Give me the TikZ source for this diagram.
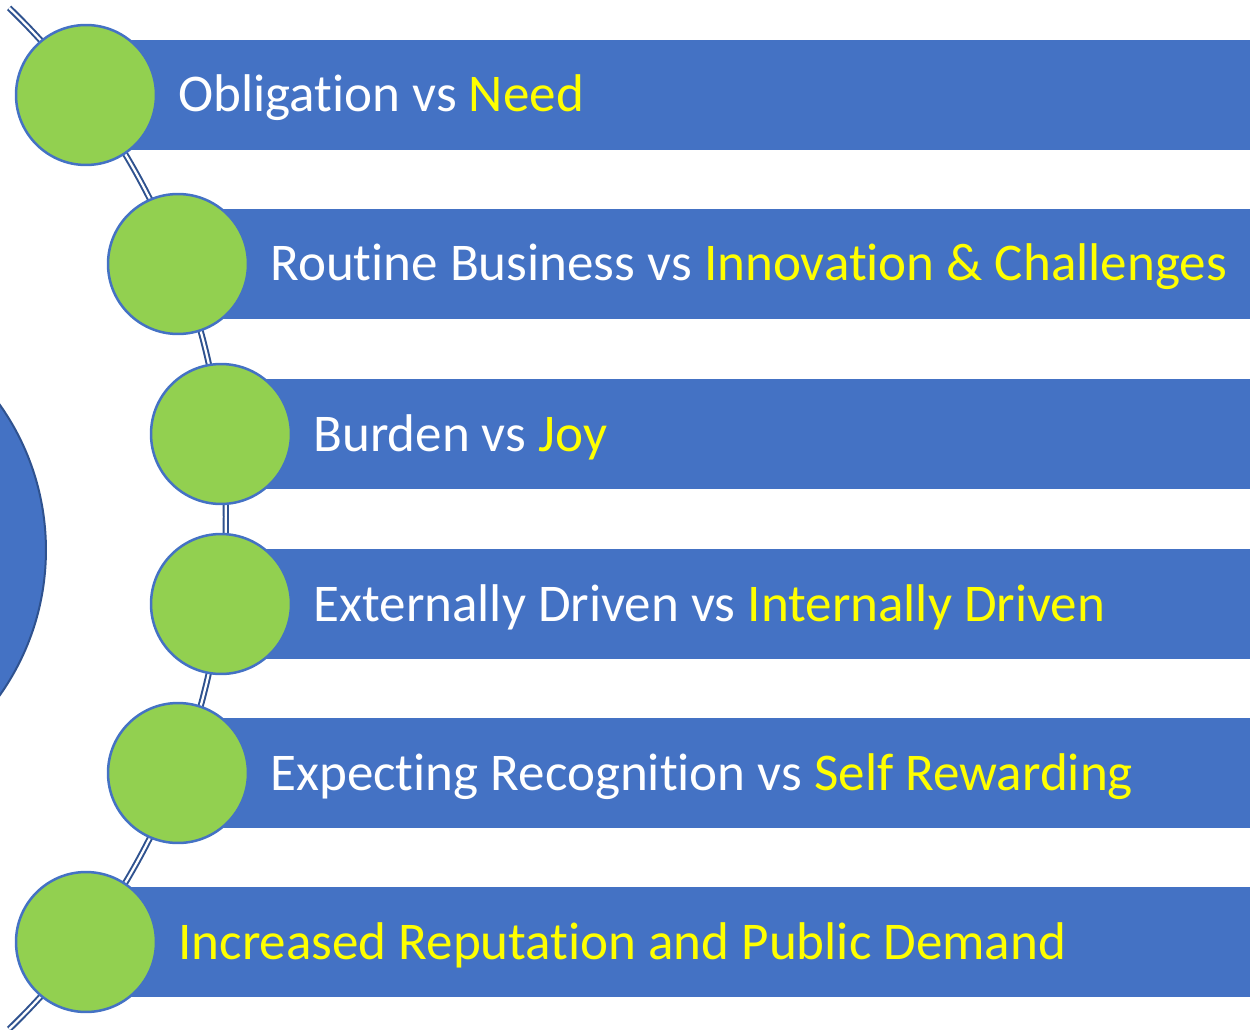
\documentclass[tikz,border=0pt]{standalone}
\usepackage{fontspec}
\setmainfont{Carlito}[Ligatures={NoCommon}]
\definecolor{barblue}{HTML}{4472C4}
\definecolor{darkblue}{HTML}{2F528F}
\definecolor{dotgreen}{HTML}{92D050}
\definecolor{hiyellow}{HTML}{FFFF00}

\begin{document}
\begin{tikzpicture}[x=0.02cm,y=-0.02cm,
  dot/.style={circle, draw=barblue, line width=0.05cm, fill=dotgreen, minimum size=2.8cm, inner sep=0pt},
  lbl/.style={anchor=base west, text=white, font=\fontsize{30.2}{36}\selectfont, inner sep=0pt}]
\useasboundingbox (0,0) rectangle (1250,1030);

% big circle on the left
\filldraw[fill=barblue, draw=darkblue, line width=0.04cm] (-205.5,550) circle[radius=5.03cm];

% spine
\coordinate (hub) at (-484,518.5);
\draw[darkblue, line width=0.04cm, double=white, double distance=0.045cm] (hub) ++(46:14.2cm) arc[start angle=46, end angle=-46, radius=14.2cm];

\foreach \i/\x/\y/\w/\yl in {1/86/95/Obligation vs~/Need,
  2/178/264/Routine Business vs~/Innovation \& Challenges,
  3/221/434/Burden vs~/Joy,
  4/221/604/Externally Driven vs~/Internally Driven,
  5/178/773/Expecting Recognition vs~/Self Rewarding,
  6/86/942//Increased Reputation and Public Demand}
{
  \fill[barblue] (\x+45,\y-55) rectangle (1250,\y+55);
  \node[dot] (dot\i) at (\x,\y) {};
  \node[lbl] (txt\i) at (\x+92,\y+17) {\w\textcolor{hiyellow}{\yl}};
}

\end{tikzpicture}
\end{document}
